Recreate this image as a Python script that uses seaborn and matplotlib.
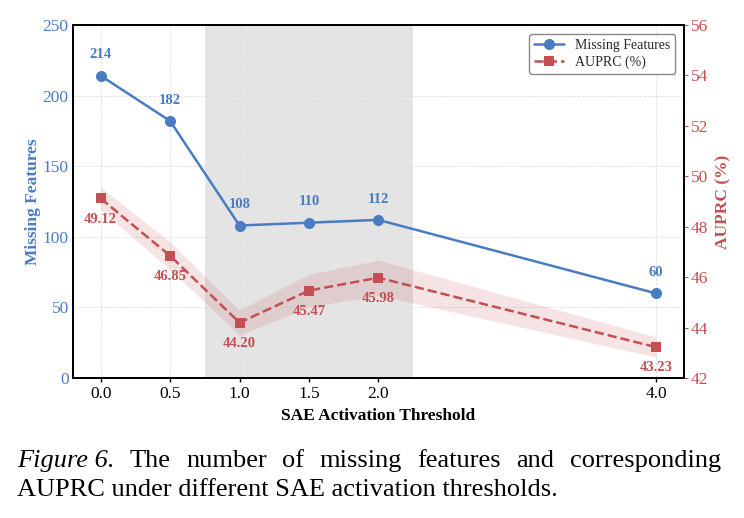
import matplotlib
matplotlib.use("Agg")
import matplotlib.pyplot as plt
import seaborn as sns
import pandas as pd

# data
thresholds = [0.0, 0.5, 1.0, 1.5, 2.0, 4.0]
tick_labels = ["0.0", "0.5", "1.0", "1.5", "2.0", "4.0"]
missing = [214, 182, 108, 110, 112, 60]
auprc = [49.12, 46.85, 44.20, 45.47, 45.98, 43.23]
auprc_std = [0.45, 0.55, 0.5, 0.65, 0.7, 0.4]
shade_range = (0.75, 2.25)

blue = "#4a7cc4"
red = "#c44e52"

sns.set_theme(style="whitegrid")
plt.rcParams["font.family"] = ["Liberation Serif", "DejaVu Serif"]

df = pd.DataFrame({"x": thresholds, "missing": missing, "auprc": auprc, "std": auprc_std})

fig = plt.figure(figsize=(7.44, 5.18), dpi=100)
ax = fig.add_axes([0.098, 0.270, 0.821, 0.682])
ax2 = ax.twinx()

ax.axvspan(*shade_range, color="#e4e4e4", zorder=0, lw=0)

sns.lineplot(data=df, x="x", y="missing", ax=ax, color=blue, marker="o", markersize=8,
             markeredgewidth=0, linewidth=1.8, label="Missing Features", legend=False)
sns.lineplot(data=df, x="x", y="auprc", ax=ax2, color=red, marker="s", markersize=7,
             markeredgewidth=0, linewidth=1.8, linestyle="--", dashes=(4, 2.5),
             label="AUPRC (%)", legend=False)
ax2.fill_between(df["x"], df["auprc"] - df["std"], df["auprc"] + df["std"],
                 color=red, alpha=0.15, lw=0)

for xv, yv in zip(thresholds, missing):
    ax.annotate(f"{yv}", (xv, yv), xytext=(0, 15), textcoords="offset points",
                ha="center", va="center", color=blue, fontsize=10.5, fontweight="bold")
for xv, yv in zip(thresholds, auprc):
    ax2.annotate(f"{yv:.2f}", (xv, yv), xytext=(0, -15), textcoords="offset points",
                 ha="center", va="center", color=red, fontsize=10.5, fontweight="bold")

ax.set_xlim(-0.2, 4.2)
ax.set_ylim(0, 250)
ax2.set_ylim(42, 56)
ax.set_xticks(thresholds)
ax.set_xticklabels(tick_labels)
ax.set_yticks([0, 50, 100, 150, 200, 250])
ax2.set_yticks([42, 44, 46, 48, 50, 52, 54, 56])

ax.set_xlabel("SAE Activation Threshold", fontsize=12.5, fontweight="bold", color="black", labelpad=4)
ax.set_ylabel("Missing Features", fontsize=12.5, fontweight="bold", color=blue, labelpad=1)
ax2.set_ylabel("AUPRC (%)", fontsize=12.5, fontweight="bold", color=red, labelpad=5)

ax.tick_params(axis="x", labelsize=12.5, colors="black", length=3, width=1, pad=3, direction="out", bottom=True)
ax.tick_params(axis="y", labelsize=12.5, labelcolor=blue, length=0, pad=3)
ax2.tick_params(axis="y", labelsize=12.5, labelcolor=red, colors=red, length=3, width=0.8, pad=2, right=True)

ax.grid(True, linestyle="--", linewidth=0.6, color="#dddddd", alpha=0.9)
ax2.grid(False)
ax.set_axisbelow(True)
for a in (ax, ax2):
    for s in a.spines.values():
        s.set_color("black")
        s.set_linewidth(1.4)

h1, l1 = ax.get_legend_handles_labels()
h2, l2 = ax2.get_legend_handles_labels()
ax2.legend(h1 + h2, l1 + l2, loc="upper right", fontsize=10, frameon=True,
           edgecolor="#888888", fancybox=True, framealpha=1.0,
           bbox_to_anchor=(1.0, 0.998), borderpad=0.35, labelspacing=0.3,
           handlelength=2.2, borderaxespad=0.6)

# caption, first line justified
cap_size = 19
line1 = [("Figure 6.", "italic"), ("The", "normal"), ("number", "normal"), ("of", "normal"),
         ("missing", "normal"), ("features", "normal"), ("and", "normal"), ("corresponding", "normal")]
line2 = "AUPRC under different SAE activation thresholds."
left_px, right_px = 17, 721
y1 = 1 - 467 / 518
y2 = 1 - 496 / 518

texts = [fig.text(0, y1, w, fontsize=cap_size, style=st, ha="left", va="baseline", color="black")
         for w, st in line1]
fig.canvas.draw()
r = fig.canvas.get_renderer()
widths = [t.get_window_extent(r).width for t in texts]
gap = (right_px - left_px - sum(widths)) / (len(texts) - 1)
xpos = left_px
for t, w in zip(texts, widths):
    t.set_x(xpos / 744)
    xpos += w + gap
fig.text(left_px / 744, y2, line2, fontsize=cap_size, ha="left", va="baseline", color="black")

fig.savefig("out.png", dpi=100)
